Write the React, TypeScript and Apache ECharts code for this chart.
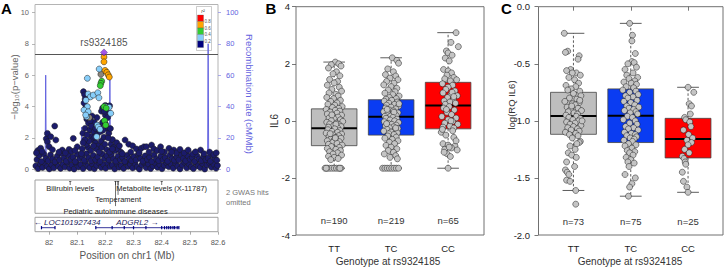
import React, { useEffect, useRef } from 'react';
import * as echarts from 'echarts';

// ---------------- Panel A data ----------------
const xTicksMb = [82, 82.1, 82.2, 82.3, 82.4, 82.5, 82.6];
const logpTicks = [0, 2, 4, 6, 8, 10];
const recombTicks = [0, 20, 40, 60, 80, 100];

const recombRate: [number, number][] = [
  [81.95, 0.5], [81.97, 1], [81.986, 2], [81.988, 60], [81.99, 1], [82.0, 0.5], [82.03, 1], [82.05, 0.5],
  [82.08, 1], [82.112, 1.5], [82.116, 27], [82.119, 1], [82.15, 0.8], [82.2, 1], [82.214, 2], [82.216, 57],
  [82.218, 1.5], [82.26, 1], [82.3, 0.5], [82.35, 1], [82.4, 0.8], [82.45, 1], [82.5, 0.5], [82.55, 1],
  [82.563, 3], [82.565, 80], [82.567, 2], [82.6, 1],
];

const navyBand: [number, number][] = [
  [81.953, 0.22], [81.961, 0.05], [81.969, 0.35], [81.977, 0.12], [81.985, 0.4], [81.993, 0.18], [82.001, 0.03], [82.009, 0.3],
  [82.017, 0.1], [82.025, 0.42], [82.033, 0.2], [82.041, 0.06], [82.049, 0.33], [82.057, 0.15], [82.065, 0.44], [82.073, 0.08],
  [82.081, 0.27], [82.089, 0.02], [82.097, 0.38], [82.105, 0.16], [82.113, 0.3], [82.121, 0.05], [82.129, 0.41], [82.137, 0.2],
  [82.145, 0.1], [82.153, 0.36], [82.161, 0.04], [82.169, 0.25], [82.177, 0.43], [82.185, 0.12], [82.193, 0.32], [82.201, 0.07],
  [82.209, 0.4], [82.217, 0.18], [82.225, 0.28], [82.233, 0.03], [82.241, 0.37], [82.249, 0.14], [82.257, 0.24], [82.265, 0.06],
  [82.273, 0.43], [82.281, 0.19], [82.289, 0.31], [82.297, 0.09], [82.305, 0.38], [82.313, 0.15], [82.321, 0.02], [82.329, 0.29],
  [82.337, 0.44], [82.345, 0.11], [82.353, 0.34], [82.361, 0.05], [82.369, 0.22], [82.377, 0.4], [82.385, 0.13], [82.393, 0.3],
  [82.401, 0.04], [82.409, 0.26], [82.417, 0.42], [82.425, 0.17], [82.433, 0.33], [82.441, 0.08], [82.449, 0.39], [82.457, 0.2],
  [82.465, 0.03], [82.473, 0.28], [82.481, 0.45], [82.489, 0.1], [82.497, 0.35], [82.505, 0.16], [82.513, 0.05], [82.521, 0.41],
  [82.529, 0.23], [82.537, 0.12], [82.545, 0.37], [82.553, 0.02], [82.561, 0.29], [82.569, 0.44], [82.577, 0.14], [82.585, 0.32],
  [82.593, 0.07], [82.598, 0.25],
  [81.957, 0.62], [81.965, 0.88], [81.973, 0.5], [81.981, 0.98], [81.989, 0.7], [81.997, 0.55], [82.005, 0.92], [82.013, 0.66],
  [82.021, 0.48], [82.029, 0.85], [82.037, 0.6], [82.045, 1.02], [82.053, 0.72], [82.061, 0.52], [82.069, 0.9], [82.077, 0.64],
  [82.085, 0.78], [82.093, 0.5], [82.101, 0.95], [82.109, 0.68], [82.117, 0.82], [82.125, 0.58], [82.133, 1.0], [82.141, 0.74],
  [82.149, 0.55], [82.157, 0.9], [82.165, 0.62], [82.173, 0.8], [82.181, 0.5], [82.189, 0.97], [82.197, 0.7], [82.205, 0.86],
  [82.213, 0.6], [82.221, 0.94], [82.229, 0.66], [82.237, 0.52], [82.245, 0.84], [82.253, 0.62], [82.261, 0.76], [82.269, 0.5],
  [82.277, 0.9], [82.285, 0.68], [82.293, 0.55], [82.301, 0.82], [82.309, 0.6], [82.317, 0.96], [82.325, 0.7], [82.333, 0.52],
  [82.341, 0.86], [82.349, 0.64], [82.357, 0.78], [82.365, 0.5], [82.373, 0.92], [82.381, 0.66], [82.389, 0.56], [82.397, 0.84],
  [82.405, 0.62], [82.413, 0.74], [82.421, 0.52], [82.429, 0.9], [82.437, 0.68], [82.445, 0.58], [82.453, 0.8], [82.461, 0.6],
  [82.469, 0.95], [82.477, 0.7], [82.485, 0.54], [82.493, 0.86], [82.501, 0.64], [82.509, 0.76], [82.517, 0.5], [82.525, 0.88],
  [82.533, 0.66], [82.541, 0.56], [82.549, 0.82], [82.557, 0.62], [82.565, 0.72], [82.573, 0.52], [82.581, 0.9], [82.589, 0.68],
  [82.596, 0.58],
];

const navyScatter: [number, number][] = [
  [81.96, 1.2], [81.97, 1.35], [81.99, 1.95], [81.994, 2.29], [82.006, 2.08], [82.02, 2.76], [82.024, 1.87], [81.994, 1.76],
  [82.0, 1.45], [82.012, 1.25], [82.047, 1.23], [82.071, 1.27], [82.086, 1.97], [82.1, 1.44], [82.035, 1.1], [82.058, 1.05],
  [82.08, 1.15], [82.092, 1.2], [81.975, 1.15], [81.955, 1.05],
  [82.122, 4.95], [82.126, 4.75], [82.128, 4.48], [82.124, 4.22], [82.13, 3.9], [82.134, 3.2], [82.14, 2.95], [82.128, 2.62],
  [82.12, 2.3], [82.145, 2.5], [82.15, 2.1], [82.155, 1.9], [82.16, 2.4], [82.165, 1.7], [82.17, 2.2], [82.175, 1.5],
  [82.18, 2.7], [82.185, 1.8], [82.19, 3.0], [82.195, 2.05], [82.2, 4.07], [82.205, 4.0], [82.21, 3.65], [82.2, 3.45],
  [82.215, 4.05], [82.19, 3.9], [82.186, 3.7], [82.208, 2.6], [82.212, 2.3], [82.22, 1.6], [82.225, 1.9], [82.23, 1.4],
  [82.235, 1.2], [82.24, 1.7], [82.245, 1.3], [82.25, 1.5], [82.255, 1.1], [82.26, 1.0], [82.17, 3.3], [82.16, 3.0],
  [82.15, 2.75], [82.138, 1.4], [82.132, 1.6], [82.142, 1.8], [82.168, 1.3], [82.178, 1.1], [82.188, 1.4], [82.198, 1.6],
  [82.205, 1.25], [82.215, 1.1], [82.148, 1.2], [82.158, 1.5], [82.182, 2.4], [82.172, 2.8], [82.162, 2.05], [82.127, 1.9],
  [82.118, 1.3], [82.115, 1.0], [82.196, 3.7], [82.208, 3.3], [82.2, 2.9], [82.192, 2.5], [82.21, 2.0], [82.218, 2.6],
  [82.225, 1.3], [82.153, 3.4], [82.146, 3.1], [82.165, 2.6], [82.135, 2.2], [82.121, 1.7],
  [82.27, 1.87], [82.283, 1.6], [82.297, 1.5], [82.31, 1.3], [82.327, 1.34], [82.337, 1.44], [82.346, 1.44], [82.364, 1.55],
  [82.372, 1.3], [82.384, 1.2], [82.396, 1.44], [82.41, 1.1], [82.426, 1.34], [82.443, 1.23], [82.452, 1.05], [82.465, 1.27],
  [82.48, 1.05], [82.494, 1.23], [82.51, 0.98], [82.538, 1.23], [82.55, 1.0], [82.57, 1.1], [82.585, 0.95], [82.594, 1.05],
  [82.29, 1.1], [82.32, 1.05], [82.355, 1.1], [82.4, 1.15], [82.435, 1.1], [82.52, 1.12],
];

const grayPoints: [number, number][] = [[82.184, 6.05], [82.143, 3.3]];
const lightBluePoints: [number, number][] = [
  [82.178, 6.39], [82.136, 5.8], [82.139, 4.8], [82.147, 4.62], [82.157, 4.73], [82.173, 4.88], [82.177, 4.56], [82.131, 4.4],
  [82.136, 3.99], [82.124, 3.78], [82.139, 3.67], [82.133, 3.35], [82.13, 3.46], [82.199, 4.0], [82.213, 3.95], [82.219, 3.57],
  [82.171, 2.82], [82.175, 2.7], [82.181, 2.55], [82.169, 2.08],
];
const greenPoints: [number, number][] = [
  [82.187, 5.62], [82.184, 5.48], [82.182, 5.33], [82.195, 3.99], [82.203, 3.9], [82.197, 3.1], [82.201, 2.82],
];
const orangePoints: [number, number][] = [
  [82.195, 7.15], [82.195, 6.85], [82.199, 6.3], [82.205, 6.18], [82.21, 6.02], [82.214, 5.88],
];
const leadSnp: [number, number] = [82.195, 7.45];
const leadSnpName = 'rs9324185';
const gwsThreshold = 7.3;

const gwasPos = [82.075, 82.245, 82.236, 82.4];
const gwasTraits = ['Bilirubin levels', 'Temperament', 'Pediatric autoimmune diseases', 'Metabolite levels (X-11787)'];
const gwasRows = [0, 1, 2, 0];

const geneNames = ['LOC101927434', 'ADGRL2'];
const geneStarts = [81.973, 82.166];
const geneEnds = [82.021, 82.461];
const geneStrands = ['-', '+'];
const geneExons = [
  [81.973, 82.021],
  [82.166, 82.224, 82.267, 82.3, 82.344, 82.4, 82.41, 82.418, 82.425, 82.432, 82.44, 82.446, 82.455, 82.461],
];

const r2Labels = ['0.8', '0.6', '0.4', '0.2'];

// ---------------- Panel B / C data ----------------
const genotypes = ['TT', 'TC', 'CC'];
// [min, Q1, median, Q3, max]
const il6Stats = [
  [-1.66, -0.87, -0.26, 0.42, 2.06],
  [-1.66, -0.5, 0.14, 0.74, 2.21],
  [-1.66, -0.28, 0.54, 1.35, 3.09],
];
const il6Counts = [190, 219, 65];
const rqStats = [
  [-1.61, -1.118, -0.957, -0.75, -0.233],
  [-1.66, -1.19, -0.955, -0.72, -0.146],
  [-1.626, -1.325, -1.159, -0.978, -0.706],
];
const rqCounts = [73, 75, 25];

// [jitter, value]
const il6TT: [number, number][] = [
  [0.02, 2.06], [0.08, 2.0], [-0.05, 1.97], [0.12, 1.92], [-0.1, 1.85], [0.04, 1.72], [-0.02, 1.65], [0.1, 1.58], [-0.08, 1.45],
  [0.06, 1.38], [0.0, 1.33], [-0.12, 1.25], [0.09, 1.18], [-0.04, 1.1], [0.13, 1.04], [-0.09, 0.98], [0.03, 0.93], [0.07, 0.87],
  [-0.13, 0.82], [-0.01, 0.78], [0.11, 0.72], [-0.06, 0.68], [0.05, 0.63], [-0.11, 0.58], [0.01, 0.55], [0.14, 0.5], [-0.03, 0.47], [0.08, 0.44],
  [-0.14, 0.4], [0.02, 0.37], [0.1, 0.34], [-0.07, 0.31], [0.05, 0.27], [-0.12, 0.24], [0.13, 0.2], [-0.02, 0.17], [0.07, 0.13],
  [-0.09, 0.1], [0.0, 0.07], [0.11, 0.04], [-0.05, 0.01], [0.15, -0.02], [-0.13, -0.05], [0.04, -0.08], [-0.08, -0.11], [0.09, -0.14],
  [-0.01, -0.17], [0.12, -0.2], [-0.1, -0.22], [0.06, -0.24], [-0.04, 0.21], [0.03, -0.12],
  [0.01, -0.28], [-0.11, -0.31], [0.1, -0.34], [-0.04, -0.37], [0.06, -0.4], [-0.14, -0.43], [0.13, -0.46], [-0.02, -0.49],
  [0.08, -0.52], [-0.09, -0.55], [0.03, -0.58], [0.12, -0.61], [-0.06, -0.64], [0.0, -0.67], [-0.12, -0.7], [0.09, -0.73],
  [-0.03, -0.76], [0.05, -0.79], [-0.1, -0.82], [0.14, -0.85], [0.02, -0.6], [-0.07, -0.45],
  [-0.05, -0.9], [0.09, -0.93], [-0.12, -0.97], [0.03, -1.0], [0.11, -1.04], [-0.08, -1.08], [0.06, -1.12], [-0.02, -1.16],
  [0.13, -1.2], [-0.1, -1.24], [0.0, -1.28], [0.07, -1.32], [-0.06, -1.36],
  [-0.16, -1.66], [-0.12, -1.66], [-0.08, -1.66], [-0.04, -1.66], [0.0, -1.66], [0.04, -1.66], [0.08, -1.66], [0.12, -1.66],
  [-0.14, -1.66], [0.1, -1.66],
];
const il6TC: [number, number][] = [
  [0.02, 2.21], [0.1, 2.12], [0.13, 2.02], [-0.06, 1.82], [0.04, 1.72], [-0.1, 1.62], [0.08, 1.57], [-0.02, 1.5], [0.12, 1.44],
  [-0.08, 1.38], [0.05, 1.32], [-0.13, 1.26], [0.0, 1.2], [0.1, 1.14], [-0.05, 1.08], [0.07, 1.02], [-0.11, 0.97], [0.03, 0.92],
  [0.14, 0.87], [-0.03, 0.82], [0.09, 0.78], [-0.09, 0.76],
  [0.01, 0.72], [-0.12, 0.69], [0.11, 0.66], [-0.04, 0.62], [0.06, 0.58], [-0.08, 0.55], [0.13, 0.51], [0.0, 0.48], [-0.1, 0.45],
  [0.08, 0.42], [-0.03, 0.38], [0.04, 0.35], [-0.13, 0.32], [0.12, 0.28], [-0.06, 0.25], [0.02, 0.22], [0.09, 0.19], [-0.01, 0.17],
  [-0.11, 0.16], [0.05, 0.3], [0.14, 0.6], [-0.07, 0.4],
  [0.03, 0.12], [-0.09, 0.09], [0.1, 0.06], [-0.02, 0.03], [0.06, 0.0], [-0.12, -0.03], [0.13, -0.06], [-0.05, -0.09], [0.01, -0.12],
  [0.09, -0.15], [-0.1, -0.18], [0.04, -0.21], [-0.03, -0.24], [0.12, -0.27], [-0.07, -0.3], [0.07, -0.33], [-0.13, -0.36],
  [0.0, -0.39], [0.11, -0.42], [-0.04, -0.45], [0.05, -0.48], [-0.08, -0.1], [0.08, -0.25],
  [-0.06, -0.53], [0.09, -0.57], [-0.11, -0.61], [0.02, -0.65], [0.12, -0.7], [-0.03, -0.75], [0.06, -0.8], [-0.09, -0.86],
  [0.0, -0.92], [0.1, -0.98], [-0.05, -1.04], [0.04, -1.1], [-0.12, -1.16], [0.08, -1.22], [-0.02, -1.28], [0.11, -1.33],
  [-0.15, -1.66], [-0.11, -1.66], [-0.07, -1.66], [-0.03, -1.66], [0.01, -1.66], [0.05, -1.66], [0.09, -1.66], [0.13, -1.66],
];
const il6CC: [number, number][] = [
  [0.14, 3.09], [0.05, 2.75], [0.18, 2.6], [-0.03, 2.45], [0.0, 2.38], [0.07, 2.3], [-0.05, 2.2], [0.02, 2.1], [-0.08, 1.8],
  [0.0, 1.75], [0.06, 1.68], [-0.02, 1.6], [0.1, 1.52], [-0.06, 1.47], [0.15, 1.44], [0.04, 1.4],
  [-0.1, 1.3], [0.08, 1.25], [0.0, 1.18], [-0.04, 1.1], [0.12, 1.05], [-0.09, 0.98], [0.05, 0.93], [0.16, 0.88], [-0.01, 0.82],
  [0.09, 0.75], [-0.07, 0.7], [0.03, 0.66], [0.13, 0.62], [-0.05, 0.58], [0.07, 1.0], [0.1, 0.85],
  [0.02, 0.5], [-0.08, 0.45], [0.11, 0.38], [-0.02, 0.3], [0.06, 0.22], [-0.11, 0.15], [0.14, 0.1], [0.0, 0.04], [0.08, -0.02],
  [-0.06, -0.08], [0.17, -0.12], [0.03, -0.18], [-0.09, -0.22], [0.1, -0.25], [-0.03, 0.4], [0.05, 0.0],
  [-0.12, -0.4], [-0.04, -0.5], [0.1, -0.58], [-0.09, -0.8], [0.0, -0.85], [0.12, -0.88], [0.06, -0.95], [-0.06, -1.0],
  [0.16, -1.02], [0.02, -0.92], [-0.02, -1.15], [0.04, -1.25], [-0.07, -1.1], [0.14, -0.7], [-0.1, -0.3], [0.08, -0.35], [0.0, -1.66],
];

const rqTT: [number, number][] = [
  [-0.16, -0.233], [-0.1, -0.39], [-0.14, -0.4], [0.1, -0.43], [0.08, -0.46], [-0.05, -0.55], [-0.12, -0.56], [0.05, -0.58],
  [-0.02, -0.58], [0.12, -0.6], [-0.08, -0.62], [0.02, -0.64], [0.09, -0.67], [-0.13, -0.69], [0.04, -0.7], [-0.04, -0.72],
  [0.11, -0.74], [-0.1, -0.73],
  [0.0, -0.76], [0.13, -0.78], [-0.07, -0.8], [0.06, -0.81], [-0.15, -0.83], [0.1, -0.84], [-0.02, -0.85], [0.03, -0.86],
  [-0.11, -0.88], [0.08, -0.89], [-0.05, -0.9], [0.14, -0.91], [-0.09, -0.92], [0.01, -0.93], [0.07, -0.94], [-0.13, -0.95],
  [0.11, -0.82], [-0.03, -0.87],
  [0.05, -0.96], [-0.08, -0.97], [0.12, -0.98], [-0.01, -0.99], [0.09, -1.0], [-0.12, -1.01], [0.03, -1.02], [-0.06, -1.03],
  [0.13, -1.04], [0.0, -1.05], [-0.1, -1.06], [0.07, -1.07], [-0.04, -1.08], [0.1, -1.09], [-0.14, -1.1], [0.04, -1.11],
  [-0.07, -1.12], [0.15, -1.0],
  [0.08, -1.13], [-0.02, -1.15], [0.12, -1.18], [0.1, -1.19], [0.06, -1.2], [-0.06, -1.22], [0.03, -1.25], [-0.09, -1.28],
  [-0.03, -1.3], [0.05, -1.32], [-0.12, -1.36], [0.02, -1.4], [-0.14, -1.43], [-0.11, -1.45], [-0.08, -1.47], [-0.12, -1.52],
  [-0.06, -1.53], [0.04, -1.61], [0.04, -1.73],
];
const rqTC: [number, number][] = [
  [-0.02, -0.146], [0.03, -0.25], [0.02, -0.3], [0.08, -0.41], [0.02, -0.48], [0.06, -0.49], [-0.05, -0.5], [0.1, -0.53],
  [-0.1, -0.55], [0.04, -0.58], [-0.07, -0.6], [0.12, -0.62], [-0.03, -0.63], [0.07, -0.65], [-0.12, -0.66], [0.01, -0.67],
  [0.1, -0.68], [-0.08, -0.7], [0.05, -0.71],
  [-0.14, -0.73], [0.09, -0.74], [-0.02, -0.75], [0.13, -0.77], [-0.09, -0.78], [0.04, -0.79], [-0.05, -0.8], [0.11, -0.82],
  [-0.12, -0.83], [0.0, -0.84], [0.07, -0.86], [-0.07, -0.87], [0.14, -0.88], [-0.03, -0.89], [0.05, -0.9], [-0.11, -0.91],
  [0.09, -0.92], [-0.01, -0.93], [0.12, -0.94],
  [-0.06, -0.96], [0.03, -0.97], [-0.13, -0.99], [0.08, -1.0], [-0.02, -1.02], [0.11, -1.03], [-0.09, -1.05], [0.05, -1.06],
  [-0.04, -1.07], [0.13, -1.08], [-0.11, -1.1], [0.01, -1.11], [0.08, -1.12], [-0.07, -1.13], [0.1, -1.14], [-0.01, -1.15],
  [0.06, -1.16], [-0.12, -1.17], [0.03, -1.18],
  [-0.04, -1.2], [0.09, -1.21], [-0.1, -1.22], [0.02, -1.24], [-0.06, -1.26], [0.07, -1.27], [-0.02, -1.28], [0.04, -1.3],
  [-0.08, -1.32], [0.0, -1.34], [-0.05, -1.36], [0.06, -1.37], [-0.03, -1.4], [-0.1, -1.47], [0.08, -1.5], [0.02, -1.55],
  [-0.02, -1.58], [-0.04, -1.66],
];
const rqCC: [number, number][] = [
  [0.0, -0.706], [0.1, -0.75], [0.02, -0.85], [0.06, -0.87], [0.04, -0.94], [-0.06, -0.97],
  [-0.04, -0.99], [0.03, -1.01], [0.05, -1.05], [-0.08, -1.08], [0.01, -1.12], [0.08, -1.15],
  [-0.02, -1.17], [0.06, -1.19], [0.0, -1.21], [-0.06, -1.25], [0.02, -1.28], [-0.1, -1.31],
  [-0.07, -1.33], [-0.05, -1.36], [-0.04, -1.38], [-0.1, -1.45], [-0.08, -1.53], [-0.02, -1.58], [0.0, -1.626],
];

// ---------------- styling ----------------
const FONT = '"Liberation Sans", Arial, Helvetica, sans-serif';
const BOX_COLORS = ['#bebebe', '#0a3cf2', '#ff0000'];
const R2_COLORS = ['#ff0000', '#ffa500', '#32cd32', '#87cefa', '#000080'];
const RECOMB_COLOR = '#6464e0';

function boxRender(params: any, api: any) {
  const x = api.value(0);
  const mn = api.value(1), q1 = api.value(2), md = api.value(3), q3 = api.value(4), mx = api.value(5);
  const half = 0.4, cap = 0.19;
  const tl = api.coord([x - half, q3]);
  const br = api.coord([x + half, q1]);
  const c = api.coord([x, md]);
  const pMax = api.coord([x, mx]);
  const pMin = api.coord([x, mn]);
  const capL = api.coord([x - cap, mx])[0];
  const capR = api.coord([x + cap, mx])[0];
  const wl = { stroke: '#333', lineWidth: 0.8 };
  return {
    type: 'group',
    children: [
      { type: 'line', shape: { x1: c[0], y1: tl[1], x2: c[0], y2: pMax[1] }, style: { ...wl, lineDash: [2.5, 2] } },
      { type: 'line', shape: { x1: c[0], y1: br[1], x2: c[0], y2: pMin[1] }, style: { ...wl, lineDash: [2.5, 2] } },
      { type: 'line', shape: { x1: capL, y1: pMax[1], x2: capR, y2: pMax[1] }, style: wl },
      { type: 'line', shape: { x1: capL, y1: pMin[1], x2: capR, y2: pMin[1] }, style: wl },
      {
        type: 'rect',
        shape: { x: tl[0], y: tl[1], width: br[0] - tl[0], height: br[1] - tl[1] },
        style: { fill: BOX_COLORS[params.dataIndex], stroke: '#444', lineWidth: 0.8 },
      },
      { type: 'line', shape: { x1: tl[0], y1: c[1], x2: br[0], y2: c[1] }, style: { stroke: '#000', lineWidth: 2 } },
    ],
  };
}

function nLabelRender(params: any, api: any) {
  const p = api.coord([api.value(0), api.value(1)]);
  return {
    type: 'text',
    x: p[0],
    y: p[1],
    style: {
      text: 'n=' + api.value(2),
      fill: '#333',
      fontSize: 9.5,
      fontFamily: FONT,
      textAlign: 'center',
      textVerticalAlign: 'middle',
    },
  };
}

function gwasRender(params: any, api: any) {
  const idx = api.value(1);
  const p = api.coord([api.value(0), 1]);
  const x = p[0];
  const top = p[1];
  const row = gwasRows[idx];
  const labelY = top + 8.7 + row * 11.2;
  const children: any[] = [
    { type: 'line', shape: { x1: x, y1: top + 1, x2: x, y2: top + 5 }, style: { stroke: '#333', lineWidth: 0.7 } },
    { type: 'line', shape: { x1: x - 1.2, y1: top + 1.5, x2: x + 1.2, y2: top + 1.5 }, style: { stroke: '#333', lineWidth: 0.6 } },
  ];
  if (row > 0) {
    children.push({ type: 'line', shape: { x1: x, y1: top + 1, x2: x, y2: labelY - 5 }, style: { stroke: '#333', lineWidth: 0.7 } });
  }
  children.push({
    type: 'text',
    x: x,
    y: labelY,
    style: {
      text: gwasTraits[idx],
      fill: '#222',
      fontSize: 7.5,
      fontFamily: FONT,
      textAlign: 'center',
      textVerticalAlign: 'middle',
    },
  });
  return { type: 'group', children };
}

function geneRender(params: any, api: any) {
  const i = api.value(0);
  const s = api.coord([geneStarts[i], 1]);
  const e = api.coord([geneEnds[i], 1]);
  const left = api.coord([81.95, 1])[0];
  const top = s[1];
  const lineY = top + 10.4;
  const children: any[] = [
    { type: 'line', shape: { x1: s[0], y1: lineY, x2: e[0], y2: lineY }, style: { stroke: '#000080', lineWidth: 0.8 } },
  ];
  geneExons[i].forEach((ex: number) => {
    const px = api.coord([ex, 1])[0];
    children.push({ type: 'rect', shape: { x: px - 0.6, y: lineY - 1.6, width: 1.2, height: 3.2 }, style: { fill: '#000080' } });
  });
  const label = geneStrands[i] === '-' ? '\u2190 ' + geneNames[i] : geneNames[i] + ' \u2192';
  const w = label.length * 4.3;
  let cx = (s[0] + e[0]) / 2;
  if (cx - w / 2 < left + 2) cx = left + 2 + w / 2;
  children.push({
    type: 'text',
    x: cx,
    y: top + 5,
    style: {
      text: label,
      fill: '#1a1a5a',
      fontSize: 8,
      fontStyle: 'italic',
      fontFamily: FONT,
      textAlign: 'center',
      textVerticalAlign: 'middle',
    },
  });
  return { type: 'group', children };
}

function pointSeries(data: [number, number][], color: string, xi: number, yi: number, z = 3, size = 6) {
  return {
    type: 'scatter',
    xAxisIndex: xi,
    yAxisIndex: yi,
    data,
    symbol: 'circle',
    symbolSize: size,
    z,
    itemStyle: { color, borderColor: '#1a1a1a', borderWidth: 0.5, opacity: 1 },
    silent: true,
  };
}

function buildOption() {
  const hiddenX = (gi: number) => ({
    type: 'value', gridIndex: gi, min: 81.95, max: 82.6,
    axisLabel: { show: false }, axisTick: { show: false }, axisLine: { show: false }, splitLine: { show: false },
  });
  const catX = (gi: number, min: number, max: number) => ({
    type: 'value', gridIndex: gi, min, max,
    axisLine: { show: false }, splitLine: { show: false },
    axisTick: { show: true, customValues: [1, 2, 3], length: 4, lineStyle: { color: '#555', width: 0.8 } },
    axisLabel: {
      customValues: [1, 2, 3], formatter: (v: number) => genotypes[Math.round(v) - 1] || '',
      fontSize: 9.5, color: '#222', fontFamily: FONT, margin: 8,
    },
  });
  const boxY = (gi: number, min: number, max: number, interval: number, fmt: (v: number) => string, margin: number) => ({
    type: 'value', gridIndex: gi, min, max, interval,
    axisLine: { show: false }, splitLine: { show: false },
    axisTick: { show: true, length: 4, lineStyle: { color: '#555', width: 0.8 } },
    axisLabel: { formatter: fmt, fontSize: 9.5, color: '#222', fontFamily: FONT, margin },
  });

  const gridBase = { show: true, containLabel: false, outerBoundsMode: 'none', backgroundColor: 'transparent' };

  return {
    animation: false,
    backgroundColor: '#ffffff',
    textStyle: { fontFamily: FONT },
    grid: [
      { ...gridBase, left: 35, top: 4.5, width: 183, height: 166.6, borderColor: '#b4b4b4', borderWidth: 1 },
      { ...gridBase, left: 35, top: 180, width: 183, height: 33.3, borderColor: '#a0a0a0', borderWidth: 1 },
      { ...gridBase, left: 35, top: 217.3, width: 183, height: 14.4, borderColor: '#a0a0a0', borderWidth: 1 },
      { ...gridBase, left: 296, top: 6.7, width: 188, height: 228.3, borderColor: '#707070', borderWidth: 1 },
      { ...gridBase, left: 538.5, top: 6.7, width: 184.5, height: 228.3, borderColor: '#707070', borderWidth: 1 },
    ],
    xAxis: [
      hiddenX(0),
      hiddenX(1),
      {
        type: 'value', gridIndex: 2, min: 81.95, max: 82.6,
        axisLine: { show: false }, splitLine: { show: false },
        axisTick: { show: true, customValues: xTicksMb, length: 3, lineStyle: { color: '#888', width: 0.7 } },
        axisLabel: {
          customValues: xTicksMb, formatter: (v: number) => String(Number(v.toFixed(1))),
          fontSize: 7.5, color: '#555', fontFamily: FONT, margin: 6.5,
        },
      },
      catX(3, 0.33, 3.63),
      catX(4, 0.39, 3.61),
    ],
    yAxis: [
      {
        type: 'value', gridIndex: 0, min: -0.11, max: 10.5, position: 'left',
        axisLine: { show: false }, splitLine: { show: false },
        axisTick: { show: true, customValues: logpTicks, length: 3, lineStyle: { color: '#999', width: 0.7 } },
        axisLabel: { customValues: logpTicks, fontSize: 7.5, color: '#666', fontFamily: FONT, margin: 6 },
      },
      {
        type: 'value', gridIndex: 0, min: -1.1, max: 105, position: 'right',
        axisLine: { show: false }, splitLine: { show: false },
        axisTick: { show: true, customValues: recombTicks, length: 3, lineStyle: { color: '#8a8ae6', width: 0.7 } },
        axisLabel: { customValues: recombTicks, fontSize: 7.5, color: RECOMB_COLOR, fontFamily: FONT, margin: 8 },
      },
      { type: 'value', gridIndex: 1, min: 0, max: 1, show: false, splitLine: { show: false } },
      { type: 'value', gridIndex: 2, min: 0, max: 1, show: false, splitLine: { show: false } },
      boxY(3, -4, 4, 2, (v: number) => String(v), 6),
      boxY(4, -2, 0, 0.5, (v: number) => v.toFixed(1), 8.5),
    ],
    series: [
      {
        type: 'line', xAxisIndex: 0, yAxisIndex: 1, data: recombRate, showSymbol: false, symbol: 'none',
        lineStyle: { color: RECOMB_COLOR, width: 1 }, z: 1, silent: true,
      },
      {
        ...pointSeries(navyBand, '#1b1b6b', 0, 0, 2),
        markLine: {
          silent: true, symbol: 'none', label: { show: false },
          lineStyle: { color: '#555', width: 1, type: 'solid' },
          data: [{ yAxis: gwsThreshold }],
        },
      },
      pointSeries(navyScatter, '#1b1b6b', 0, 0, 3),
      pointSeries(grayPoints, '#8c8579', 0, 0, 4),
      pointSeries(lightBluePoints, '#87cefa', 0, 0, 4),
      pointSeries(greenPoints, '#32cd32', 0, 0, 5),
      pointSeries(orangePoints, '#ffa500', 0, 0, 5),
      {
        type: 'scatter', xAxisIndex: 0, yAxisIndex: 0, data: [leadSnp], symbol: 'diamond', symbolSize: 7, z: 6,
        itemStyle: { color: '#8a2be2', borderColor: '#3a1070', borderWidth: 0.5 },
        label: { show: true, position: 'top', distance: 1, formatter: leadSnpName, fontSize: 10, color: '#222', fontFamily: FONT },
        silent: true,
      },
      {
        type: 'custom', xAxisIndex: 1, yAxisIndex: 2, renderItem: gwasRender,
        data: gwasPos.map((p, i) => [p, i]), silent: true, z: 3,
      },
      {
        type: 'custom', xAxisIndex: 2, yAxisIndex: 3, renderItem: geneRender,
        data: geneNames.map((_, i) => [i]), silent: true, z: 3,
      },
      // Panel B
      {
        type: 'custom', xAxisIndex: 3, yAxisIndex: 4, renderItem: boxRender,
        data: il6Stats.map((s, i) => [i + 1, ...s]), silent: true, z: 2,
      },
      pointSeries(il6TT.map(([j, v]) => [1 + j, v] as [number, number]), '#c4c4c4', 3, 4, 4, 6),
      pointSeries(il6TC.map(([j, v]) => [2 + j, v] as [number, number]), '#c4c4c4', 3, 4, 4, 6),
      pointSeries(il6CC.map(([j, v]) => [3 + j, v] as [number, number]), '#c4c4c4', 3, 4, 4, 6),
      {
        type: 'custom', xAxisIndex: 3, yAxisIndex: 4, renderItem: nLabelRender,
        data: il6Counts.map((n, i) => [i + 1, -3.5, n]), silent: true, z: 5,
      },
      // Panel C
      {
        type: 'custom', xAxisIndex: 4, yAxisIndex: 5, renderItem: boxRender,
        data: rqStats.map((s, i) => [i + 1, ...s]), silent: true, z: 2,
      },
      pointSeries(rqTT.map(([j, v]) => [1 + j, v] as [number, number]), '#c4c4c4', 4, 5, 4, 6),
      pointSeries(rqTC.map(([j, v]) => [2 + j, v] as [number, number]), '#c4c4c4', 4, 5, 4, 6),
      pointSeries(rqCC.map(([j, v]) => [3 + j, v] as [number, number]), '#c4c4c4', 4, 5, 4, 6),
      {
        type: 'custom', xAxisIndex: 4, yAxisIndex: 5, renderItem: nLabelRender,
        data: rqCounts.map((n, i) => [i + 1, -1.885, n]), silent: true, z: 5,
      },
    ],
    graphic: [
      // panel letters
      { type: 'text', x: 1, y: 8.5, style: { text: 'A', fontSize: 15, fontWeight: 'bold', fill: '#000', fontFamily: FONT, textVerticalAlign: 'middle' } },
      { type: 'text', x: 265.5, y: 8.5, style: { text: 'B', fontSize: 15, fontWeight: 'bold', fill: '#000', fontFamily: FONT, textVerticalAlign: 'middle' } },
      { type: 'text', x: 501, y: 8.5, style: { text: 'C', fontSize: 15, fontWeight: 'bold', fill: '#000', fontFamily: FONT, textVerticalAlign: 'middle' } },
      // panel A titles
      {
        type: 'text', x: 14, y: 87, rotation: Math.PI / 2,
        style: { text: '\u2212log\u2081\u2080(p\u2212value)', fontSize: 9.5, fill: '#666', fontFamily: FONT, textAlign: 'center', textVerticalAlign: 'middle' },
      },
      {
        type: 'text', x: 249.5, y: 94, rotation: -Math.PI / 2,
        style: { text: 'Recombination rate (cM/Mb)', fontSize: 9.5, fill: RECOMB_COLOR, fontFamily: FONT, textAlign: 'center', textVerticalAlign: 'middle' },
      },
      {
        type: 'text', x: 127, y: 255,
        style: { text: 'Position on chr1 (Mb)', fontSize: 10, fill: '#555', fontFamily: FONT, textAlign: 'center', textVerticalAlign: 'middle' },
      },
      {
        type: 'text', x: 226, y: 192,
        style: { text: '2 GWAS hits', fontSize: 7.5, fill: '#777', fontFamily: FONT, textVerticalAlign: 'middle' },
      },
      {
        type: 'text', x: 226, y: 202,
        style: { text: 'omitted', fontSize: 7.5, fill: '#777', fontFamily: FONT, textVerticalAlign: 'middle' },
      },
      // r2 legend
      {
        type: 'group',
        children: [
          { type: 'rect', shape: { x: 196.5, y: 6.5, width: 15, height: 44 }, style: { fill: '#fff', stroke: '#999', lineWidth: 0.5 } },
          { type: 'text', x: 203, y: 10.5, style: { text: 'r\u00b2', fontSize: 5, fontStyle: 'italic', fill: '#333', fontFamily: FONT, textAlign: 'center', textVerticalAlign: 'middle' } },
          ...R2_COLORS.map((c, i) => ({
            type: 'rect', shape: { x: 197.5, y: 15 + i * 6.5, width: 6, height: 6.5 }, style: { fill: c, stroke: '#555', lineWidth: 0.3 },
          })),
          ...r2Labels.map((t, i) => ({
            type: 'text', x: 204.5, y: 21.5 + i * 6.5,
            style: { text: t, fontSize: 4.5, fill: '#555', fontFamily: FONT, textVerticalAlign: 'middle' },
          })),
        ],
      },
      // panel B titles
      {
        type: 'text', x: 274, y: 121, rotation: Math.PI / 2,
        style: { text: 'IL6', fontSize: 10, fill: '#333', fontFamily: FONT, textAlign: 'center', textVerticalAlign: 'middle' },
      },
      {
        type: 'text', x: 388, y: 261.5,
        style: { text: 'Genotype at rs9324185', fontSize: 10, fill: '#333', fontFamily: FONT, textAlign: 'center', textVerticalAlign: 'middle' },
      },
      // panel C titles
      {
        type: 'text', x: 511, y: 105, rotation: Math.PI / 2,
        style: { text: 'log(RQ IL6)', fontSize: 9.5, fill: '#333', fontFamily: FONT, textAlign: 'center', textVerticalAlign: 'middle' },
      },
      {
        type: 'text', x: 630, y: 261.5,
        style: { text: 'Genotype at rs9324185', fontSize: 10, fill: '#333', fontFamily: FONT, textAlign: 'center', textVerticalAlign: 'middle' },
      },
    ],
  };
}

export default function App() {
  const ref = useRef<HTMLDivElement>(null);
  useEffect(() => {
    document.body.style.margin = '0';
    const chart = echarts.init(ref.current as HTMLDivElement, null, { renderer: 'svg' });
    chart.setOption(buildOption() as any);
    return () => {
      chart.dispose();
    };
  }, []);
  return (
    <div
      ref={ref}
      style={{ width: 724, height: 268, position: 'absolute', left: 0, top: 0, background: '#fff' }}
    />
  );
}
